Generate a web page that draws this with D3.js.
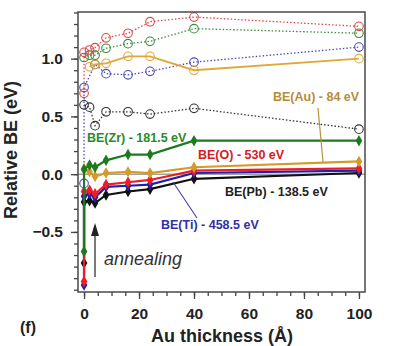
<!DOCTYPE html>
<html>
<head>
<meta charset="utf-8">
<script src="https://cdn.jsdelivr.net/npm/d3@7"></script>
<style>
  body { margin: 0; background: #fff; }
  text { font-family: "Liberation Sans", Arial, sans-serif; }
</style>
</head>
<body>
<script>
// canvas size
const width = 400;
const height = 346;

// Au thickness; the first 0 is the as-deposited point, the second is after annealing
const thickness = [0, 0, 2, 4, 8, 16, 24, 40, 100];

// core levels, solid lines with filled markers
const beZr = [-0.67, 0.04, 0.08, 0.06, 0.12, 0.17, 0.17, 0.29, 0.29];
const beAu = [null, 0.05, 0.02, -0.02, 0.01, 0.02, 0.01, 0.06, 0.11];
const beO  = [-0.93, -0.15, -0.14, -0.17, -0.09, -0.07, -0.05, 0.03, 0.05];
const beTi = [-0.96, -0.19, -0.17, -0.20, -0.11, -0.10, -0.09, 0.01, 0.03];
const bePb = [-0.77, -0.24, -0.23, -0.25, -0.18, -0.15, -0.13, -0.04, 0.01];

// second components, open circles
const openO  = [0.70, 1.055, 1.075, 1.095, 1.18, 1.22, 1.32, 1.36, 1.28];
const openZr = [null, 1.01, 1.03, 1.03, 1.09, 1.13, 1.15, 1.26, 1.22];
const openTi = [-0.08, 0.75, null, 0.95, 0.87, 0.86, 0.89, 0.97, 1.10];
const openAu = [null, null, 0.93, 0.95, 0.96, 1.02, 1.02, 0.90, 1.00];
const openPb = [null, 0.60, 0.58, 0.42, 0.54, 0.54, 0.52, 0.57, 0.39];

const xTicks = [0, 20, 40, 60, 80, 100];
const yTicks = [-0.5, 0.0, 0.5, 1.0];

// plot frame
const frame = {left: 78, right: 365, top: 12, bottom: 292};

const xScale = d3.scaleLinear()
  .domain([-2.2, 102.2])
  .range([frame.left, frame.right]);

const yScale = d3.scaleLinear()
  .domain([-1.02, 1.404])
  .range([frame.bottom, frame.top]);

const svg = d3.select('body')
  .append('svg')
  .attr('width', width)
  .attr('height', height);

// zero line
svg.append('line')
  .attr('x1', frame.left).attr('x2', frame.right)
  .attr('y1', yScale(0)).attr('y2', yScale(0))
  .attr('stroke', '#777').attr('stroke-width', 1);

// axes: majors with labels, minors without
const axisFont = g => g.selectAll('text')
  .attr('font-size', 15.5).attr('font-weight', 'bold')
  .attr('fill', '#222')
  .attr('font-family', '"Liberation Sans", Arial, sans-serif');

svg.append('g')
  .attr('transform', 'translate(0,' + frame.bottom + ')')
  .call(d3.axisBottom(xScale).tickValues(d3.range(0, 101, 5)).tickSize(4).tickFormat(''))
  .call(g => g.select('.domain').remove());

svg.append('g')
  .attr('transform', 'translate(0,' + frame.bottom + ')')
  .call(d3.axisBottom(xScale).tickValues(xTicks).tickSize(7).tickPadding(9).tickFormat(d3.format('d')))
  .call(g => g.select('.domain').remove())
  .call(axisFont);

svg.append('g')
  .attr('transform', 'translate(' + frame.left + ',0)')
  .call(d3.axisLeft(yScale).tickValues(d3.range(-10, 15).map(d => d / 10)).tickSize(4).tickFormat(''))
  .call(g => g.select('.domain').remove());

svg.append('g')
  .attr('transform', 'translate(' + frame.left + ',0)')
  .call(d3.axisLeft(yScale).tickValues(yTicks).tickSize(7).tickPadding(8).tickFormat(d3.format('.1f')))
  .call(g => g.select('.domain').remove())
  .call(axisFont);

svg.selectAll('.tick line').attr('stroke', '#444').attr('stroke-width', 1.3);

const line = d3.line()
  .x(d => xScale(d[0]))
  .y(d => yScale(d[1]));

const points = vals => thickness.map((t, i) => [t, vals[i]]).filter(d => d[1] !== null);

// open-circle series
const openSeries = [
  {vals: openPb, color: '#333', dash: '1.5,2'},
  {vals: openTi, color: '#4b4bbb', dash: '1.5,2'},
  {vals: openAu, color: '#e0a83a', dash: null},
  {vals: openZr, color: '#3a8a3a', dash: '1.5,2'},
  {vals: openO, color: '#e04848', dash: '1.5,2'}
];

openSeries.forEach(s => {
  const pts = points(s.vals);
  svg.append('path')
    .datum(pts)
    .attr('d', line)
    .attr('fill', 'none')
    .attr('stroke', s.color)
    .attr('stroke-width', s.dash ? 1.3 : 1.8)
    .attr('stroke-dasharray', s.dash);
  svg.selectAll(null)
    .data(pts)
    .enter()
    .append('circle')
    .attr('cx', d => xScale(d[0]))
    .attr('cy', d => yScale(d[1]))
    .attr('r', 4.3)
    .attr('fill', 'none')
    .attr('stroke', s.color)
    .attr('stroke-width', 1.1);
});

// filled series
const filledSeries = [
  {vals: bePb, color: '#111'},
  {vals: beTi, color: '#2020b0'},
  {vals: beO, color: '#ee1c24'},
  {vals: beAu, color: '#d49a2a'},
  {vals: beZr, color: '#1d7a1d'}
];

const diamond = d3.symbol().type(d3.symbolDiamond).size(38);

filledSeries.forEach(s => {
  const pts = points(s.vals);
  svg.append('path')
    .datum(pts)
    .attr('d', line)
    .attr('fill', 'none')
    .attr('stroke', s.color)
    .attr('stroke-width', 2.2);
  svg.selectAll(null)
    .data(pts)
    .enter()
    .append('path')
    .attr('d', diamond)
    .attr('transform', d => 'translate(' + xScale(d[0]) + ',' + yScale(d[1]) + ')')
    .attr('fill', s.color);
});

// frame
svg.append('rect')
  .attr('x', frame.left).attr('y', frame.top)
  .attr('width', frame.right - frame.left)
  .attr('height', frame.bottom - frame.top)
  .attr('fill', 'none')
  .attr('stroke', '#4a4a4a')
  .attr('stroke-width', 1.5);

// pointer lines for labels
svg.append('line')
  .attr('x1', 318).attr('y1', 108).attr('x2', 323).attr('y2', 162)
  .attr('stroke', '#b89038').attr('stroke-width', 1.2);
svg.append('line')
  .attr('x1', 173).attr('y1', 182).attr('x2', 197).attr('y2', 218)
  .attr('stroke', '#4040a8').attr('stroke-width', 1.1);

// series labels
const labels = [
  {text: 'BE(Zr) - 181.5 eV', x: 87, y: 142, color: '#2a8a2a'},
  {text: 'BE(Au) - 84 eV', x: 273, y: 101, color: '#b88c3a'},
  {text: 'BE(O) - 530 eV', x: 198, y: 159, color: '#d42020'},
  {text: 'BE(Pb) - 138.5 eV', x: 225, y: 196, color: '#222'},
  {text: 'BE(Ti) - 458.5 eV', x: 161, y: 229, color: '#3030a8'}
];

svg.selectAll('.label')
  .data(labels)
  .enter()
  .append('text')
  .attr('class', 'label')
  .attr('x', d => d.x)
  .attr('y', d => d.y)
  .attr('font-size', 12.5)
  .attr('font-weight', 'bold')
  .attr('fill', d => d.color)
  .text(d => d.text);

// annealing arrow
svg.append('line')
  .attr('x1', 95).attr('y1', 277)
  .attr('x2', 95).attr('y2', 234)
  .attr('stroke', '#333').attr('stroke-width', 1.3);
svg.append('path')
  .attr('d', 'M95,223 L91,236 L99,236 Z')
  .attr('fill', '#222');

svg.append('text')
  .attr('x', 104).attr('y', 265)
  .attr('font-size', 18).attr('font-style', 'italic')
  .attr('fill', '#333')
  .text('annealing');

// panel letter
svg.append('text')
  .attr('x', 20).attr('y', 333)
  .attr('font-size', 16).attr('font-weight', 'bold')
  .attr('fill', '#222')
  .text('(f)');

// axis titles
svg.append('text')
  .attr('x', 222).attr('y', 342)
  .attr('text-anchor', 'middle')
  .attr('font-size', 18).attr('font-weight', 'bold')
  .attr('fill', '#222')
  .text('Au thickness (Å)');

svg.append('text')
  .attr('transform', 'translate(17,150) rotate(-90)')
  .attr('text-anchor', 'middle')
  .attr('font-size', 18).attr('font-weight', 'bold')
  .attr('fill', '#222')
  .text('Relative BE (eV)');
</script>
</body>
</html>
